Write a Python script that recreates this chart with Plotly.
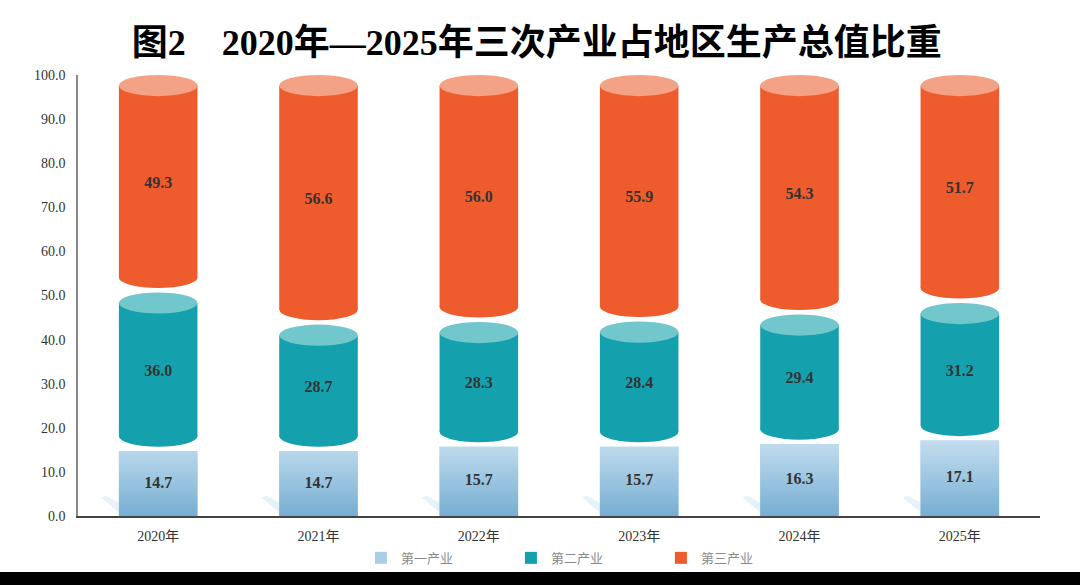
"""Stacked cylinder chart: share of three industries in regional GDP, 2020-2025."""

import plotly.graph_objects as go

YEARS     = ["2020年", "2021年", "2022年", "2023年", "2024年", "2025年"]
PRIMARY   = [14.7, 14.7, 15.7, 15.7, 16.3, 17.1]
SECONDARY = [36.0, 28.7, 28.3, 28.4, 29.4, 31.2]
TERTIARY  = [49.3, 56.6, 56.0, 55.9, 54.3, 51.7]
NAMES     = ["第一产业", "第二产业", "第三产业"]
Y_TICKS   = [0, 10, 20, 30, 40, 50, 60, 70, 80, 90, 100]

TITLE = "图2　2020年—2025年三次产业占地区生产总值比重"

# colours
LIGHT_TOP, LIGHT_BOT = "#C3DEEF", "#76AED2"
TEAL, TEAL_CAP = "#14A1AD", "#72C7CC"
ORANGE, ORANGE_CAP = "#EE5B2C", "#F3A286"

SERIF = "Liberation Serif, Noto Sans CJK SC"
W = 0.49      # bar width in category units
D = 2.4       # half-height of the cylinder caps (y units)
GAP = 1.0     # white gap between stacked pieces

x = list(range(len(YEARS)))
fig = go.Figure()

# legend carrier + flat base for the primary industry
fig.add_trace(go.Bar(
    x=x, y=PRIMARY, base=0, width=W, name=NAMES[0],
    marker=dict(color="#A9CFE6", line_width=0), hoverinfo="skip",
))

# cylinder bodies
sec_base = [p + GAP + D for p in PRIMARY]
sec_len = [s - GAP - 2 * D for s in SECONDARY]
ter_base = [p + s + GAP + D for p, s in zip(PRIMARY, SECONDARY)]
ter_len = [t - GAP - 2 * D for t in TERTIARY]
fig.add_trace(go.Bar(x=x, y=sec_len, base=sec_base, width=W, name=NAMES[1],
                     marker=dict(color=TEAL, line_width=0), hoverinfo="skip"))
fig.add_trace(go.Bar(x=x, y=ter_len, base=ter_base, width=W, name=NAMES[2],
                     marker=dict(color=ORANGE, line_width=0), hoverinfo="skip"))

# gradient overlay on the primary blocks, plus the faint floor shadow
px, py, sx, sy = [], [], [], []
for i, p in zip(x, PRIMARY):
    px += [i - W / 2, i + W / 2, i + W / 2, i - W / 2, i - W / 2, None]
    py += [0, 0, p, p, 0, None]
    sx += [i - W / 2, i - W / 2 - 0.11, i - W / 2 - 0.08, i - W / 2, None]
    sy += [0.8, 4.2, 4.6, 3.0, None]
fig.add_trace(go.Scatter(
    x=sx, y=sy, mode="lines", fill="toself", line_width=0, showlegend=False,
    fillcolor="rgba(175,208,230,0.3)", hoverinfo="skip",
))
fig.add_trace(go.Scatter(
    x=px, y=py, mode="lines", fill="toself", line_width=0, showlegend=False,
    fillgradient=dict(type="vertical",
                      colorscale=[[0, LIGHT_BOT], [1, LIGHT_TOP]]),
    hoverinfo="skip",
))

# caps of the cylinders
shapes = []
for i in x:
    for base, length, body, cap in ((sec_base[i], sec_len[i], TEAL, TEAL_CAP),
                                     (ter_base[i], ter_len[i], ORANGE, ORANGE_CAP)):
        shapes.append(dict(type="circle", xref="x", yref="y", layer="above",
                           x0=i - W / 2, x1=i + W / 2, y0=base - D, y1=base + D,
                           fillcolor=body, line_width=0))
        shapes.append(dict(type="circle", xref="x", yref="y", layer="above",
                           x0=i - W / 2, x1=i + W / 2,
                           y0=base + length - D, y1=base + length + D,
                           fillcolor=cap, line_width=0))
# black band at the bottom of the picture
shapes.append(dict(type="rect", xref="paper", yref="paper", x0=-0.2, x1=1.2,
                   y0=-0.127, y1=-0.2, fillcolor="black", line_width=0))

# value labels
lab_y, lab_t = [], []
for p, s, t in zip(PRIMARY, SECONDARY, TERTIARY):
    lab_y.append([p / 2, p + s / 2, p + s + t / 2])
    lab_t.append([f"{p:.1f}", f"{s:.1f}", f"{t:.1f}"])
for k in range(3):
    fig.add_trace(go.Scatter(
        x=x, y=[r[k] for r in lab_y], text=[r[k] for r in lab_t],
        mode="text", showlegend=False, hoverinfo="skip",
        textfont=dict(family=SERIF, size=16, color="#333333", weight="bold"),
    ))

fig.update_layout(
    width=1080, height=585,
    barmode="overlay",
    plot_bgcolor="white", paper_bgcolor="white",
    margin=dict(t=75, b=69, l=78, r=40),
    title=dict(text=TITLE, x=0.497, xanchor="center", y=0.928, yanchor="middle",
               yref="container",
               font=dict(family=SERIF, size=36, color="black", weight="bold")),
    legend=dict(orientation="h", x=0.528, xanchor="center", y=-0.095,
                yanchor="middle", entrywidth=105, bgcolor="rgba(0,0,0,0)",
                font=dict(family="Noto Sans CJK SC", size=13, color="#8A8A8A")),
    shapes=shapes,
    showlegend=True,
)
fig.update_xaxes(
    range=[-0.5, len(YEARS) - 0.5], tickvals=x, ticktext=YEARS,
    showgrid=False, zeroline=False, showline=True, linecolor="#444444",
    linewidth=1.5, ticks="", ticklabelstandoff=6,
    tickfont=dict(family=SERIF, size=14, color="#333333"),
)
fig.update_yaxes(
    range=[0, 100], tickvals=Y_TICKS, tickformat=".1f",
    showgrid=False, zeroline=False, showline=True, linecolor="#888888",
    linewidth=1.5, ticks="", ticklabelstandoff=8,
    tickfont=dict(family=SERIF, size=14, color="#333333"),
)

# the page's default body margin would shift the figure by 8px
fig.write_html("out.html", config={"displayModeBar": False},
               post_script="document.body.style.margin='0';")
